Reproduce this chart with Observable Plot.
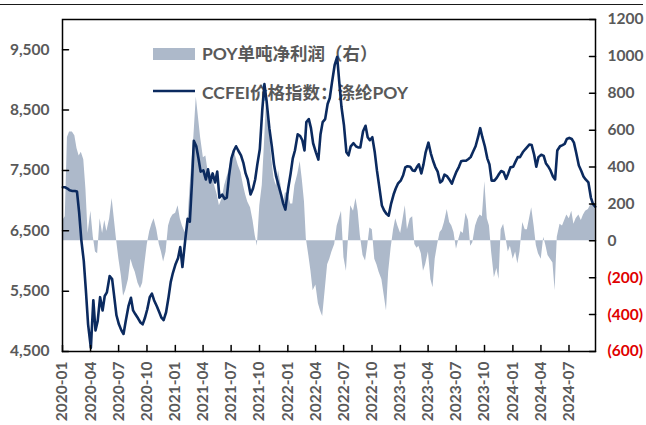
<!DOCTYPE html>
<html><head><meta charset="utf-8">
<script src="https://cdn.jsdelivr.net/npm/d3@7"></script>
<script src="https://cdn.jsdelivr.net/npm/@observablehq/plot@0.6"></script>
<style>
body{margin:0;background:#fff;}
#wrap{position:relative;width:646px;height:425px;overflow:hidden;background:#fff;}
#topline{position:absolute;left:0;top:4px;width:643px;height:0;border-top:1px solid #1a1a1a;}
#wrap svg{position:absolute;left:0;top:0;}
</style></head><body>
<div id="wrap"><div id="topline"></div></div>
<script>
// ---- data ----
const months = ["2020-01","2020-02","2020-03","2020-04","2020-05","2020-06","2020-07","2020-08","2020-09","2020-10","2020-11","2020-12",
"2021-01","2021-02","2021-03","2021-04","2021-05","2021-06","2021-07","2021-08","2021-09","2021-10","2021-11","2021-12",
"2022-01","2022-02","2022-03","2022-04","2022-05","2022-06","2022-07","2022-08","2022-09","2022-10","2022-11","2022-12",
"2023-01","2023-02","2023-03","2023-04","2023-05","2023-06","2023-07","2023-08","2023-09","2023-10","2023-11","2023-12",
"2024-01","2024-02","2024-03","2024-04","2024-05","2024-06","2024-07","2024-08","2024-09"];
const weekDays = [2, 10, 17, 24];
// CCFEI价格指数：涤纶POY (left axis), four readings per month
const price = [
[7220,7220,7200,7170],[7160,7160,7150,6800],[6350,6000,5500,4950],[4560,5350,4850,5000],[5400,5180,5420,5480],[5750,5700,5400,5100],
[4950,4850,4790,5000],[5250,5390,5180,5120],[5050,4980,4950,5050],[5200,5400,5460,5350],[5250,5150,5060,5020],[5150,5400,5650,5800],
[5950,6050,6230,5900],[6340,6700,6650,7300],[7990,7900,7700,7480],[7500,7350,7520,7300],[7450,7300,7480,7050],[7100,7030,7050,7400],
[7700,7830,7900,7830],[7750,7620,7450,7350],[7100,7200,7350,7600],[7850,8500,8930,8650],[8200,7900,7600,7400],[7250,7100,6950,6850],
[7200,7450,7700,7830],[8100,8070,8000,7830],[8300,8350,8200,7950],[7800,7680,8100,8300],[8350,8600,8700,8950],[9250,9380,8950,8550],
[8250,7800,7750,7900],[7950,7900,7880,7880],[8150,8240,8050,8000],[8050,7800,7500,7250],[6920,6830,6780,6750],[6950,7100,7200,7280],
[7330,7420,7550,7570],[7560,7500,7490,7560],[7600,7450,7600,7800],[7960,7780,7660,7560],[7480,7300,7330,7430],[7400,7340,7280,7380],
[7480,7560,7650,7660],[7660,7690,7720,7800],[7900,8050,8200,8050],[7900,7700,7600,7330],[7330,7380,7440,7490],[7470,7360,7450,7550],
[7560,7650,7720,7720],[7800,7850,7890,7930],[7920,7760,7560,7720],[7760,7740,7620,7570],[7500,7400,7350,7830],[7900,7920,7940,8020],
[8040,8020,7960,7800],[7580,7490,7400,7350],[7300,7050,6940,6900]
];
// POY单吨净利润 (right axis), four readings per month
const profit = [
[110,130,560,590],[590,570,500,460],[480,440,280,40],[160,20,-60,-70],[120,40,110,50],[120,230,120,10],
[-100,-190,-300,-270],[-210,-100,-140,-170],[-230,-260,-230,-130],[-20,50,90,120],[60,-20,-60,-115],[-60,80,120,140],
[150,190,120,80],[45,80,270,430],[560,780,670,560],[450,460,380,370],[340,290,250,190],[230,300,340,380],
[450,490,450,410],[370,300,250,210],[180,110,30,-30],[190,300,520,770],[620,440,340,300],[380,300,190,260],
[260,200,200,300],[360,430,330,210],[10,-80,-165,-270],[-240,-340,-380,-410],[-270,-130,-100,-60],[-20,80,120,160],
[-90,-165,20,190],[160,230,160,30],[-80,-110,-30,70],[60,-100,-130,-170],[-210,-300,-380,-170],[-40,60,120,80],
[40,120,190,60],[120,130,-20,-40],[-30,-70,-165,-130],[-60,-210,-255,-100],[-20,45,60,100],[170,100,80,45],
[-45,10,50,40],[150,110,-30,-10],[80,120,140,130],[320,120,80,-60],[-200,-150,-210,60],[90,10,-60,-30],
[-100,-60,-125,-60],[100,60,60,120],[180,80,-25,-70],[-100,20,-25,-80],[-100,-120,-270,20],[90,80,110,140],
[120,160,90,120],[140,110,140,160],[170,195,195,200]
];
const seriesNames = ["POY单吨净利润（右）", "CCFEI价格指数：涤纶POY"];
const leftTicks = [4500, 5500, 6500, 7500, 8500, 9500];
const rightTicks = [-600, -400, -200, 0, 200, 400, 600, 800, 1000, 1200];
const xTicks = ["2020-01","2020-04","2020-07","2020-10","2021-01","2021-04","2021-07","2021-10","2022-01","2022-04","2022-07","2022-10",
"2023-01","2023-04","2023-07","2023-10","2024-01","2024-04","2024-07"];
const leftDomain = [4500, 10000];
const rightDomain = [-600, 1200];
const xDomain = ["2020-01-01", "2024-09-25"];

// ---- build ----
const parseM = d3.utcParse("%Y-%m");
const rows = [];
months.forEach((m, i) => {
  const base = parseM(m);
  weekDays.forEach((day, k) => {
    rows.push({date: new Date(Date.UTC(base.getUTCFullYear(), base.getUTCMonth(), day)), price: price[i][k], profit: profit[i][k]});
  });
});
const toLeft = p => leftDomain[0] + (p - rightDomain[0]) * (leftDomain[1] - leftDomain[0]) / (rightDomain[1] - rightDomain[0]);
const fromLeft = v => Math.round(rightDomain[0] + (v - leftDomain[0]) * (rightDomain[1] - rightDomain[0]) / (leftDomain[1] - leftDomain[0]));
const rightFmt = v => { const p = fromLeft(v); return p < 0 ? `(${-p})` : `${p}`; };
const xTickDates = xTicks.map(parseM);
const zero = toLeft(0);
const tickShape = {draw(ctx, l) { ctx.moveTo(0, 0); ctx.lineTo(0, -l); }};
const navy = "#0b2a5f", fillC = "#adb9ca", gray = "#595959", red = "#e00000";

const chart = Plot.plot({
  width: 646, height: 425,
  marginTop: 19, marginBottom: 74, marginLeft: 62, marginRight: 51,
  style: {fontFamily: "Lato, 'Noto Sans CJK SC', sans-serif", fontSize: "15.5px", fontWeight: "bold", color: gray, background: "transparent"},
  x: {type: "utc", domain: xDomain.map(d => new Date(d))},
  y: {domain: leftDomain},
  marks: [
    Plot.areaY(rows, {x: "date", y1: () => zero, y2: d => toLeft(d.profit), fill: fillC}),
    Plot.line(rows, {x: "date", y: "price", stroke: navy, strokeWidth: 2.6}),
    Plot.frame({stroke: "#000", strokeWidth: 1.5}),
    Plot.axisY({anchor: "left", ticks: leftTicks, tickSize: 0, tickPadding: 13, tickFormat: d3.format(","), label: null}),
    Plot.axisY({anchor: "right", ticks: rightTicks.filter(p => p >= 0).map(toLeft), tickSize: 0, tickPadding: 12, tickFormat: rightFmt, label: null}),
    Plot.axisY({anchor: "right", ticks: rightTicks.filter(p => p < 0).map(toLeft), tickSize: 0, tickPadding: 12, tickFormat: rightFmt, fill: red, label: null}),
    Plot.axisX({ticks: xTickDates, tickFormat: d3.utcFormat("%Y-%m"), tickRotate: -90, tickSize: 0, tickPadding: 10, label: null}),
    Plot.vector(leftTicks, {y: d => d, frameAnchor: "left", rotate: 90, length: 6, anchor: "start", shape: tickShape, stroke: "#000", strokeWidth: 1.5}),
    Plot.vector(rightTicks.map(toLeft), {y: d => d, frameAnchor: "right", rotate: -90, length: 6, anchor: "start", shape: tickShape, stroke: "#000", strokeWidth: 1.5}),
    Plot.vector(xTickDates, {x: d => d, frameAnchor: "bottom", rotate: 0, length: 6, anchor: "start", shape: tickShape, stroke: "#000", strokeWidth: 1.5})
  ]
});

// legend inside the plot, beneath the line
const svg = d3.select(chart);
const lg = svg.insert("g", 'g[aria-label="line"]').attr("class", "legend");
lg.append("rect").attr("x", 153).attr("y", 48).attr("width", 42).attr("height", 12).attr("fill", fillC);
lg.append("line").attr("x1", 153).attr("x2", 195).attr("y1", 91).attr("y2", 91).attr("stroke", navy).attr("stroke-width", 2.5);
lg.selectAll("text").data(seriesNames).join("text")
  .attr("x", 202).attr("y", (d, i) => i === 0 ? 53 : 92)
  .attr("text-anchor", "start")
  .attr("dominant-baseline", "central")
  .attr("font-size", "17.5px").attr("font-weight", "bold").attr("fill", gray)
  .text(d => d);

document.getElementById("wrap").appendChild(chart);
</script>
</body></html>
